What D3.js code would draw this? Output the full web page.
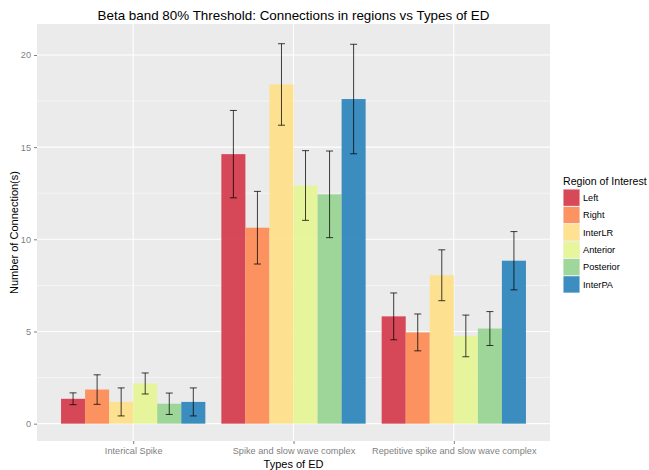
<!DOCTYPE html>
<html>
<head>
<meta charset="utf-8">
<script src="https://cdn.jsdelivr.net/npm/d3@7"></script>
<style>
  body { margin: 0; background: #fff; }
  text { font-family: "Liberation Sans", Arial, sans-serif; }
</style>
</head>
<body>
<svg width="649" height="470"></svg>
<script>
// data
var edTypes = ["Interical Spike", "Spike and slow wave complex", "Repetitive spike and slow wave complex"];
var regions = ["Left", "Right", "InterLR", "Anterior", "Posterior", "InterPA"];
var regionColors = ["#D53E4F", "#FC8D59", "#FEE08B", "#E6F598", "#99D594", "#3288BD"];

// mean number of connections, one row per ED type, columns follow regions
var means = [
  [1.35, 1.85, 1.18, 2.18, 1.08, 1.18],
  [14.62, 10.63, 18.40, 12.92, 12.44, 17.61],
  [5.82, 4.95, 8.05, 4.76, 5.16, 8.84]
];
// error (half length of error bar)
var errs = [
  [0.32, 0.80, 0.76, 0.57, 0.58, 0.76],
  [2.37, 1.97, 2.21, 1.89, 2.35, 2.97],
  [1.27, 1.00, 1.38, 1.13, 0.92, 1.58]
];
var yTicks = [0, 5, 10, 15, 20];
var yMinorTicks = [2.5, 7.5, 12.5, 17.5];

var svg = d3.select("svg");
var panel = {left: 37, right: 550, top: 24, bottom: 441};

// flatten to rows
var rows = [];
edTypes.forEach(function(t, i) {
  regions.forEach(function(r, j) {
    rows.push({type: t, region: r, mean: means[i][j], err: errs[i][j]});
  });
});

// scales (ggplot discrete: 0.6 unit expansion each side, dodge width 0.9)
var unit = (panel.right - panel.left) / (edTypes.length - 1 + 1.2);
var xc = d3.scalePoint().domain(edTypes).range([panel.left + 0.6 * unit, panel.right - 0.6 * unit]);
var xInner = d3.scaleBand().domain(regions).range([-0.45 * unit, 0.45 * unit]);

var y = d3.scaleLinear().domain([-0.94, 21.68]).range([panel.bottom, panel.top]);
var color = d3.scaleOrdinal().domain(regions).range(regionColors);

// panel background
svg.append("rect")
  .attr("x", panel.left).attr("y", panel.top)
  .attr("width", panel.right - panel.left)
  .attr("height", panel.bottom - panel.top)
  .attr("fill", "#EBEBEB");

// minor grid
svg.append("g").selectAll("line").data(yMinorTicks).enter().append("line")
  .attr("x1", panel.left).attr("x2", panel.right)
  .attr("y1", function(d) { return y(d); }).attr("y2", function(d) { return y(d); })
  .attr("stroke", "#fff").attr("stroke-width", 0.5);

// major grid
svg.append("g").selectAll("line").data(yTicks).enter().append("line")
  .attr("x1", panel.left).attr("x2", panel.right)
  .attr("y1", function(d) { return y(d); }).attr("y2", function(d) { return y(d); })
  .attr("stroke", "#fff").attr("stroke-width", 1.1);

svg.append("g").selectAll("line").data(edTypes).enter().append("line")
  .attr("y1", panel.top).attr("y2", panel.bottom)
  .attr("x1", function(d) { return xc(d); }).attr("x2", function(d) { return xc(d); })
  .attr("stroke", "#fff").attr("stroke-width", 1.1);

// bars
svg.append("g").selectAll("rect").data(rows).enter().append("rect")
  .attr("x", function(d) { return xc(d.type) + xInner(d.region); })
  .attr("width", xInner.bandwidth())
  .attr("y", function(d) { return y(d.mean); })
  .attr("height", function(d) { return y(0) - y(d.mean); })
  .attr("fill", function(d) { return color(d.region); })
  .attr("fill-opacity", 0.95);

// error bars
var capW = 3.5;
function cx(d) { return xc(d.type) + xInner(d.region) + xInner.bandwidth() / 2; }
var eb = svg.append("g").selectAll("g").data(rows).enter().append("g")
  .attr("stroke", "#000").attr("stroke-opacity", 0.75).attr("stroke-width", 1);
eb.append("line")
  .attr("x1", cx).attr("x2", cx)
  .attr("y1", function(d) { return y(d.mean - d.err); })
  .attr("y2", function(d) { return y(d.mean + d.err); });
[-1, 1].forEach(function(s) {
  eb.append("line")
    .attr("x1", function(d) { return cx(d) - capW; })
    .attr("x2", function(d) { return cx(d) + capW; })
    .attr("y1", function(d) { return y(d.mean + s * d.err); })
    .attr("y2", function(d) { return y(d.mean + s * d.err); });
});

// axes
var yAxis = svg.append("g")
  .attr("transform", "translate(" + panel.left + ",0)")
  .call(d3.axisLeft(y).tickValues(yTicks).tickSize(3).tickPadding(3));
var xAxis = svg.append("g")
  .attr("transform", "translate(0," + panel.bottom + ")")
  .call(d3.axisBottom(xc).tickSize(3).tickPadding(3));
[yAxis, xAxis].forEach(function(a) {
  a.select(".domain").remove();
  a.selectAll(".tick line").attr("stroke", "#7F7F7F");
  a.selectAll(".tick text").attr("fill", "#7F7F7F").attr("font-size", 9.2);
});

// titles
svg.append("text")
  .attr("x", (panel.left + panel.right) / 2).attr("y", 20)
  .attr("text-anchor", "middle").attr("font-size", 13.4)
  .text("Beta band 80% Threshold: Connections in regions vs Types of ED");

svg.append("text")
  .attr("x", (panel.left + panel.right) / 2).attr("y", 467.5)
  .attr("text-anchor", "middle").attr("font-size", 11)
  .text("Types of ED");

svg.append("text")
  .attr("transform", "translate(17.5," + (panel.top + panel.bottom) / 2 + ") rotate(-90)")
  .attr("text-anchor", "middle").attr("font-size", 11)
  .text("Number of Connection(s)");

// legend
var legend = svg.append("g").attr("transform", "translate(563,0)");
legend.append("text")
  .attr("x", 0).attr("y", 185).attr("font-size", 10.6)
  .text("Region of Interest");
var keyH = 17.35;
var key = legend.selectAll(".key").data(regions).enter().append("g")
  .attr("class", "key")
  .attr("transform", function(d, i) { return "translate(0," + (189 + i * keyH) + ")"; });
key.append("rect")
  .attr("width", 17).attr("height", keyH)
  .attr("fill", "#F2F2F2");
key.append("rect")
  .attr("x", 0.5).attr("y", 0.5)
  .attr("width", 16).attr("height", keyH - 1)
  .attr("fill", function(d) { return color(d); })
  .attr("fill-opacity", 0.95);
key.append("text")
  .attr("x", 20).attr("y", keyH / 2 + 3.3)
  .attr("font-size", 9.2)
  .text(function(d) { return d; });
</script>
</body>
</html>
